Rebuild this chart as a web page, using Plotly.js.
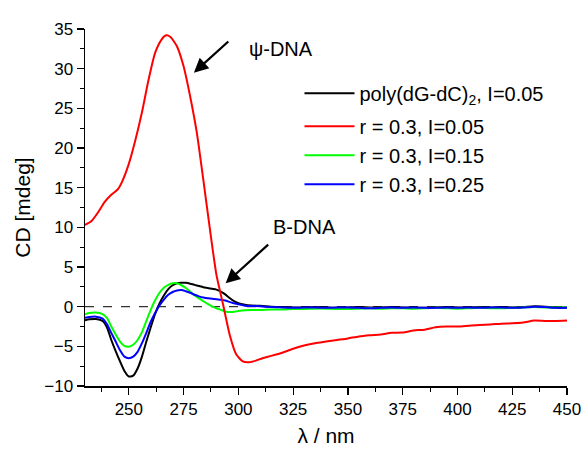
<!DOCTYPE html>
<html>
<head>
<meta charset="utf-8">
<script src="https://cdn.plot.ly/plotly-3.0.1.min.js"></script>
<style>html,body{margin:0;padding:0;background:#fff;}#chart{width:583px;height:449px;}</style>
</head>
<body>
<div id="chart"></div>
<script>
// Red curve (psi-DNA) wavelengths and values
const lambdaRed = [230,233,236,239,242,245,247,250,253,256,259,262,265,267,269,272,275,278,281,284,287,290,293,296,299,302,305,308,311,315,320,325,330,335,340,345,350,355,360,365,370,375,380,385,390,395,400,405,410,415,420,425,430,435,440,445,450];
const cdRed = [10.3,10.8,11.9,13.2,14.1,14.8,15.8,18.0,21.0,24.5,28.6,32.0,33.7,34.2,34.0,32.8,30.3,26.5,22.0,16.0,9.8,4.0,0.3,-3.5,-6.0,-6.9,-7.0,-6.8,-6.5,-6.2,-5.8,-5.3,-4.9,-4.6,-4.4,-4.2,-4.0,-3.75,-3.6,-3.5,-3.3,-3.25,-3.0,-2.9,-2.6,-2.5,-2.5,-2.4,-2.3,-2.25,-2.15,-2.1,-2.0,-1.75,-1.8,-1.8,-1.75];

// Shared wavelengths for the B-DNA type curves
const lambdaB = [230,232,235,238,240,242,244,246,248,250,252,254,256,258,260,262,264,266,268,270,272,274,276,278,280,282,284,286,288,290,292,294,296,298,300,303,306,310,315,320,325,330,335,340,345,350,355,360,365,370,375,380,385,390,395,400,405,410,415,420,425,430,435,440,445,450];
const cdPoly = [-1.7,-1.6,-1.55,-1.8,-2.6,-4.2,-5.6,-6.9,-8.1,-8.8,-8.7,-7.8,-6.3,-4.4,-2.6,-0.9,0.4,1.4,2.2,2.7,2.95,3.0,3.0,2.9,2.75,2.6,2.45,2.35,2.25,2.15,1.9,1.55,1.1,0.7,0.45,0.25,0.15,0.1,0.0,-0.05,-0.1,-0.1,-0.05,-0.1,-0.15,-0.1,-0.05,-0.1,-0.1,-0.05,-0.1,-0.1,-0.15,-0.1,-0.05,-0.1,-0.1,-0.05,-0.1,-0.05,-0.1,-0.05,0.05,0.0,-0.1,-0.1];
const cdGreen = [-0.95,-0.8,-0.75,-0.95,-1.4,-2.5,-3.5,-4.4,-4.95,-5.05,-4.8,-4.2,-3.2,-1.8,-0.4,0.8,1.75,2.4,2.75,2.95,2.95,2.7,2.35,1.9,1.45,1.05,0.7,0.35,0.05,-0.2,-0.4,-0.6,-0.68,-0.65,-0.55,-0.45,-0.42,-0.42,-0.35,-0.35,-0.3,-0.3,-0.25,-0.25,-0.3,-0.3,-0.25,-0.2,-0.25,-0.2,-0.2,-0.25,-0.2,-0.15,-0.2,-0.25,-0.2,-0.15,-0.2,-0.2,-0.15,-0.1,-0.05,-0.1,-0.1,-0.1];
const cdBlue = [-1.4,-1.3,-1.26,-1.5,-2.2,-3.3,-4.4,-5.5,-6.3,-6.5,-6.3,-5.7,-4.6,-3.3,-1.9,-0.8,0.15,0.9,1.5,1.85,2.05,2.1,1.95,1.75,1.5,1.3,1.15,1.05,1.0,0.93,0.88,0.78,0.6,0.42,0.3,0.12,0.08,0.05,-0.05,-0.1,-0.15,-0.1,-0.1,-0.15,-0.1,-0.1,-0.15,-0.2,-0.15,-0.1,-0.15,-0.1,-0.15,-0.15,-0.1,-0.15,-0.1,-0.15,-0.1,-0.1,-0.15,-0.1,0.0,-0.05,-0.15,-0.15];

const seriesNames = ["poly(dG-dC)<sub>2</sub>, I=0.05", "r = 0.3, I=0.05", "r = 0.3, I=0.15", "r = 0.3, I=0.25"];
const xTicks = [250,275,300,325,350,375,400,425,450];
const yTicks = [-10,-5,0,5,10,15,20,25,30,35];

const FONT = "'Liberation Sans', Arial, sans-serif";

const traces = [
  {x: lambdaB, y: cdPoly, name: seriesNames[0], legendrank: 1, legendgroup: "g1", line: {color: "#000000", width: 2, shape: "spline", smoothing: 0.6}, mode: "lines"},
  {x: lambdaB, y: cdGreen, name: seriesNames[2], legendrank: 3, legendgroup: "g2", line: {color: "#00ff00", width: 2, shape: "spline", smoothing: 0.6}, mode: "lines"},
  {x: lambdaB, y: cdBlue, name: seriesNames[3], legendrank: 4, legendgroup: "g2", line: {color: "#0000ff", width: 2, shape: "spline", smoothing: 0.6}, mode: "lines"},
  {x: lambdaRed, y: cdRed, name: seriesNames[1], legendrank: 2, legendgroup: "g2", line: {color: "#ff0000", width: 2, shape: "spline", smoothing: 0.6}, mode: "lines"}
];

const layout = {
  width: 583, height: 449,
  margin: {l: 85, r: 16, t: 29, b: 63, pad: 0},
  paper_bgcolor: "#ffffff", plot_bgcolor: "#ffffff",
  font: {family: FONT, size: 17, color: "#000"},
  showlegend: true,
  legend: {x: 0.445, y: 0.875, xanchor: "left", yanchor: "top", bgcolor: "rgba(0,0,0,0)", borderwidth: 0,
           font: {family: FONT, size: 20, color: "#000"}, itemwidth: 50, traceorder: "grouped", tracegroupgap: 4},
  xaxis: {range: [230, 450], tickvals: xTicks, ticks: "outside", ticklen: 7, tickwidth: 1.2, tickcolor: "#000",
          showline: true, linecolor: "#000", linewidth: 1.5, showgrid: false, zeroline: false, mirror: false,
          minor: {dtick: 12.5, tick0: 0, ticks: "outside", ticklen: 4, tickcolor: "#000", tickwidth: 1},
          tickfont: {family: FONT, size: 17},
          title: {text: "λ / nm", font: {family: FONT, size: 21}, standoff: 10}},
  yaxis: {range: [-10, 35], tickvals: yTicks, ticks: "outside", ticklen: 7, tickwidth: 1.2, tickcolor: "#000",
          showline: true, linecolor: "#000", linewidth: 1.5, showgrid: false, zeroline: false, mirror: false,
          minor: {dtick: 2.5, tick0: 0, ticks: "outside", ticklen: 4, tickcolor: "#000", tickwidth: 1},
          tickfont: {family: FONT, size: 17},
          title: {text: "CD [mdeg]", font: {family: FONT, size: 21}, standoff: 8}},
  shapes: [
    {type: "line", xref: "x", yref: "y", x0: 230, x1: 450, y0: 0, y1: 0, line: {color: "#333", width: 1.2, dash: "dash"}, layer: "below"}
  ],
  annotations: [
    {x: 279.7, y: 29.5, ax: 296.1, ay: 33.6, axref: "x", ayref: "y", xref: "x", yref: "y", text: "", showarrow: true,
     arrowhead: 2, arrowsize: 1.3, arrowwidth: 2.2, arrowcolor: "#000"},
    {x: 319.6, y: 32.5, xref: "x", yref: "y", text: "ψ-DNA", showarrow: false, font: {family: FONT, size: 20}},
    {x: 294.2, y: 2.95, ax: 314.3, ay: 8.0, axref: "x", ayref: "y", xref: "x", yref: "y", text: "", showarrow: true,
     arrowhead: 2, arrowsize: 1.3, arrowwidth: 2.2, arrowcolor: "#000"},
    {x: 330, y: 10.0, xref: "x", yref: "y", text: "B-DNA", showarrow: false, font: {family: FONT, size: 20}}
  ]
};

Plotly.newPlot("chart", traces, layout, {displayModeBar: false, staticPlot: true});
</script>
</body>
</html>
